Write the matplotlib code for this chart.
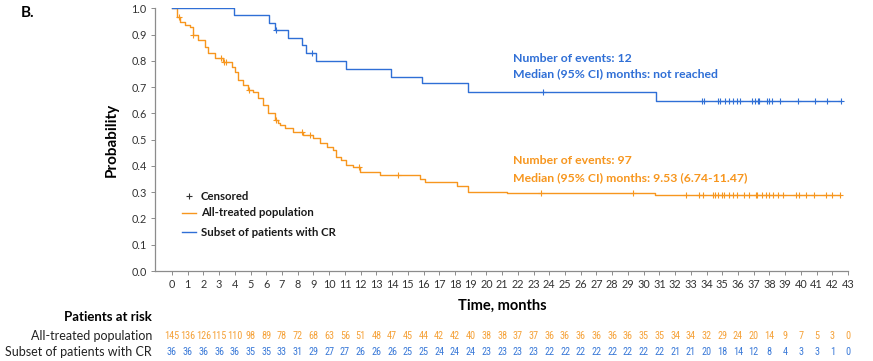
import numpy as np
import matplotlib
matplotlib.use("Agg")
import matplotlib.pyplot as plt
from matplotlib import font_manager
from matplotlib.lines import Line2D
from matplotlib.transforms import blended_transform_factory

plt.rcParams['font.family'] = ['Lato', 'DejaVu Sans']

# Kaplan-Meier steps: time (months) and survival after the step
all_t = [0, 0.3, 0.51, 0.83, 1.14, 1.35, 1.67, 2.1, 2.3, 2.73, 3.26, 3.79, 4.0, 4.2,
         4.53, 4.85, 5.17, 5.48, 5.8, 6.12, 6.54, 6.75, 6.86, 7.18, 7.7, 8.35, 8.98,
         9.4, 9.83, 10.25, 10.46, 10.78, 11.1, 11.52, 11.94, 13.2, 15.8, 16.1, 18.1,
         18.8, 21.3, 30.7]
all_s = [1.0, 0.968, 0.949, 0.936, 0.930, 0.898, 0.879, 0.854, 0.829, 0.810, 0.797,
         0.778, 0.759, 0.727, 0.708, 0.689, 0.683, 0.657, 0.632, 0.600, 0.575, 0.562,
         0.556, 0.543, 0.530, 0.518, 0.505, 0.486, 0.471, 0.461, 0.435, 0.423, 0.404,
         0.395, 0.378, 0.365, 0.350, 0.338, 0.325, 0.302, 0.296, 0.289]
all_end = 42.5
all_cens = [0.45, 1.35, 3.13, 3.34, 3.45, 4.9, 6.6, 8.24, 8.77, 11.9, 14.4, 23.5, 29.35,
            32.7, 33.5, 33.76, 34.43, 34.56, 34.7, 34.98, 35.13, 35.4, 35.66, 35.97,
            36.4, 36.68, 37.15, 37.2, 37.56, 37.78, 37.99, 38.2, 38.52, 38.84, 39.69,
            39.86, 40.32, 40.85, 41.6, 41.98, 42.49]

cr_t = [0, 3.94, 6.2, 6.55, 7.35, 8.3, 8.5, 9.14, 11.1, 13.9, 15.9, 18.85, 30.8]
cr_s = [1.0, 0.973, 0.943, 0.917, 0.888, 0.860, 0.831, 0.801, 0.770, 0.740, 0.714,
        0.683, 0.648]
cr_end = 42.54
cr_cens = [6.6, 8.9, 23.6, 33.7, 33.84, 34.75, 34.86, 35.18, 35.45, 35.67, 35.96,
           36.13, 36.88, 37.09, 37.3, 37.36, 37.83, 38.0, 38.15, 38.68, 39.84, 40.9,
           41.69, 42.54]

months = list(range(44))
risk_all = [145, 136, 126, 115, 110, 98, 89, 78, 72, 68, 63, 56, 51, 48, 47, 45, 44, 42,
            42, 40, 38, 38, 37, 37, 36, 36, 36, 36, 36, 36, 35, 35, 34, 34, 32, 29, 24,
            20, 14, 9, 7, 5, 3, 0]
risk_cr = [36, 36, 36, 36, 36, 35, 35, 33, 31, 29, 27, 27, 26, 26, 26, 25, 25, 24, 24,
           24, 23, 23, 23, 23, 22, 22, 22, 22, 22, 22, 22, 22, 21, 21, 20, 18, 14, 12,
           8, 4, 3, 3, 1, 0]

ORANGE = '#F7961E'
BLUE = '#2F6FD6'
ORANGE_TXT = '#F5A23A'
BLUE_TXT = '#3B7AD8'
GREY = '#8C8C8C'

# a narrow face for the crowded at-risk numbers, if one is installed
num_family, num_size, wide_size = ['Lato'], 7.4, 6.5
for fam, size in [('Liberation Sans Narrow', 7.8), ('DejaVu Sans Condensed', 6.6),
                  ('Roboto Condensed', 7.4)]:
    try:
        font_manager.findfont(fam, fallback_to_default=False)
    except ValueError:
        continue
    num_family, num_size, wide_size = [fam], size, size
    break


def surv_at(t, s, x):
    idx = np.searchsorted(t, x, side='right') - 1
    return np.asarray(s)[idx]


def km(ax, t, s, end, cens, color):
    xs = list(t) + [end]
    ys = list(s) + [s[-1]]
    ax.step(xs, ys, where='post', color=color, lw=1.0, zorder=3)
    ax.plot(cens, surv_at(t, s, cens), ls='none', marker='+', ms=5, mew=0.8,
            color=color, zorder=4)


W, H = 873, 361
fig = plt.figure(figsize=(W / 100, H / 100), dpi=100)
ax = fig.add_axes([155 / W, 1 - 271 / H, (848 - 155) / W, (271 - 8.3) / H])

km(ax, all_t, all_s, all_end, all_cens, ORANGE)
km(ax, cr_t, cr_s, cr_end, cr_cens, BLUE)

ax.set_xlim(-1.08, 43)
ax.set_ylim(0, 1.0)
ax.set_xticks(months)
ax.set_yticks(np.arange(0, 1.01, 0.1))
ax.set_yticklabels([f'{v:.1f}' for v in np.arange(0, 1.01, 0.1)])
ax.tick_params(axis='both', labelsize=7.8, colors='#333333', length=3, width=0.7,
               color=GREY, pad=3)
for side in ('top', 'right'):
    ax.spines[side].set_visible(False)
for side in ('left', 'bottom'):
    ax.spines[side].set_color(GREY)
    ax.spines[side].set_linewidth(0.9)

ax.set_ylabel('Probability', fontsize=11, fontweight='bold', labelpad=9)


def fx(px):
    return px / W


def fy(py):
    return 1 - py / H


fig.text(fx(21), fy(13), 'B.', fontsize=11, fontweight='bold', va='center')
fig.text(fx(502), fy(306), 'Time, months', fontsize=10.5, fontweight='bold',
         ha='center', va='center')

# annotations
fig.text(fx(513), fy(58), 'Number of events: 12', color=BLUE, fontsize=8.8,
         fontweight='bold', va='center')
fig.text(fx(513), fy(74), 'Median (95% CI) months: not reached', color=BLUE,
         fontsize=8.8, fontweight='bold', va='center')
fig.text(fx(513), fy(161), 'Number of events: 97', color=ORANGE, fontsize=8.8,
         fontweight='bold', va='center')
fig.text(fx(513), fy(178), 'Median (95% CI) months: 9.53 (6.74-11.47)', color=ORANGE,
         fontsize=8.8, fontweight='bold', va='center')

# legend
fig.add_artist(Line2D([fx(189)], [fy(196)], marker='+', ms=5, mew=0.8, color='#333333',
                      ls='none'))
fig.add_artist(Line2D([fx(182), fx(196)], [fy(213), fy(213)], color=ORANGE, lw=1.0))
fig.add_artist(Line2D([fx(182), fx(196)], [fy(232), fy(232)], color=BLUE, lw=1.0))
for y, lab in [(196, 'Censored'), (213, 'All-treated population'),
               (232, 'Subset of patients with CR')]:
    fig.text(fx(201), fy(y), lab, fontsize=8.2, fontweight='bold', va='center',
             color='#1a1a1a')

# patients at risk table
fig.text(fx(152), fy(317), 'Patients at risk', fontsize=9.5, fontweight='bold',
         ha='right', va='center')
fig.text(fx(152), fy(336), 'All-treated population', fontsize=9, ha='right',
         va='center', color='#222222')
fig.text(fx(152), fy(352), 'Subset of patients with CR', fontsize=9, ha='right',
         va='center', color='#222222')
tr = blended_transform_factory(ax.transData, fig.transFigure)
for row, vals, col in [(336, risk_all, ORANGE_TXT), (352, risk_cr, BLUE_TXT)]:
    for m, v in zip(months, vals):
        size = wide_size if v >= 100 else num_size
        ax.text(m, fy(row), str(v), transform=tr, ha='center', va='center',
                fontsize=size, family=num_family, color=col, clip_on=False)

fig.savefig('out.png', dpi=100)
